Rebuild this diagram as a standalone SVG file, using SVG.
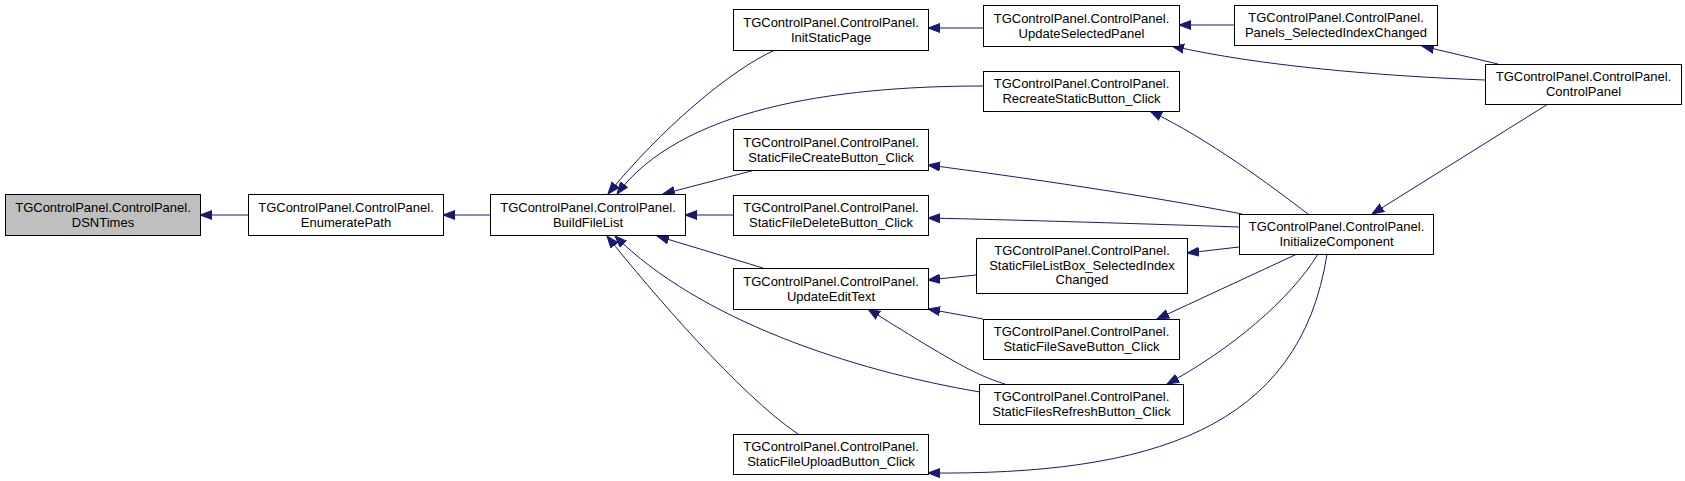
<svg xmlns="http://www.w3.org/2000/svg" width="1685" height="481" viewBox="0 0 1685 481">
<style>
.n rect{fill:#ffffff;stroke:#000000;stroke-width:1}
.n.cur rect{fill:#bfbfbf}
.n text{font-family:"Liberation Sans",Arial,sans-serif;font-size:13px;fill:#000000;text-anchor:middle}
.e path{fill:none;stroke:#191970;stroke-width:1;marker-end:url(#ah)}
</style>
<defs>
<marker id="ah" markerWidth="14" markerHeight="11" refX="12" refY="5" orient="auto" markerUnits="userSpaceOnUse">
<path d="M0,0.5 L12,5 L0,9.5 z" fill="#191970" stroke="#191970" stroke-width="1"/>
</marker>
</defs>
<rect width="1685" height="481" fill="#ffffff"/>
<g id="edges" class="e">
<path d="M248,215 L200,215"/>
<path d="M490,215 L443,215"/>
<path d="M775,50 C730,70 660,130 608,194"/>
<path d="M983,86 C830,86 680,110 617,194"/>
<path d="M755,170 L663,194"/>
<path d="M733,215 L685,215"/>
<path d="M763,268 L657,236"/>
<path d="M980,392 C850,370 700,320 615,236"/>
<path d="M798,434 C740,395 650,290 607,236"/>
<path d="M983,28 L928,28"/>
<path d="M1234,25 L1179,25"/>
<path d="M1485,80 C1380,76 1260,66 1172,46"/>
<path d="M1498,64 L1422,46"/>
<path d="M1548,104 L1372,214"/>
<path d="M1308,214 C1270,185 1210,140 1150,111"/>
<path d="M1242,214 C1150,196 1020,177 928,165"/>
<path d="M1239,227 C1150,224 1020,220 928,218"/>
<path d="M1239,247 L1187,253"/>
<path d="M1297,254 L1157,319"/>
<path d="M1318,254 C1290,300 1230,350 1167,384"/>
<path d="M1327,254 C1300,430 1150,475 928,473"/>
<path d="M976,275 L928,280"/>
<path d="M983,319 L928,309"/>
<path d="M1005,384 C975,375 950,360 868,309"/>
</g>
<g id="n1" class="n cur"><rect x="5.5" y="194.5" width="195" height="41"/><text x="103" y="211.5">TGControlPanel.ControlPanel.</text><text x="103" y="226.5">DSNTimes</text></g>
<g id="n2" class="n"><rect x="248.5" y="194.5" width="195" height="41"/><text x="346" y="211.5">TGControlPanel.ControlPanel.</text><text x="346" y="226.5">EnumeratePath</text></g>
<g id="n3" class="n"><rect x="490.5" y="194.5" width="195" height="41"/><text x="588" y="211.5">TGControlPanel.ControlPanel.</text><text x="588" y="226.5">BuildFileList</text></g>
<g id="n4" class="n"><rect x="733.5" y="9.5" width="195" height="41"/><text x="831" y="26.5">TGControlPanel.ControlPanel.</text><text x="831" y="41.5">InitStaticPage</text></g>
<g id="n5" class="n"><rect x="983.5" y="5.5" width="196" height="41"/><text x="1081.5" y="22.5">TGControlPanel.ControlPanel.</text><text x="1081.5" y="37.5">UpdateSelectedPanel</text></g>
<g id="n6" class="n"><rect x="983.5" y="71.5" width="196" height="40"/><text x="1081.5" y="88">TGControlPanel.ControlPanel.</text><text x="1081.5" y="103">RecreateStaticButton_Click</text></g>
<g id="n7" class="n"><rect x="1234.5" y="5.5" width="203" height="40"/><text x="1336" y="22">TGControlPanel.ControlPanel.</text><text x="1336" y="37">Panels_SelectedIndexChanged</text></g>
<g id="n8" class="n"><rect x="1485.5" y="64.5" width="196" height="40"/><text x="1583.5" y="81">TGControlPanel.ControlPanel.</text><text x="1583.5" y="96">ControlPanel</text></g>
<g id="n9" class="n"><rect x="733.5" y="129.5" width="195" height="41"/><text x="831" y="146.5">TGControlPanel.ControlPanel.</text><text x="831" y="161.5">StaticFileCreateButton_Click</text></g>
<g id="n10" class="n"><rect x="733.5" y="195.5" width="195" height="40"/><text x="831" y="212">TGControlPanel.ControlPanel.</text><text x="831" y="227">StaticFileDeleteButton_Click</text></g>
<g id="n11" class="n"><rect x="1239.5" y="214.5" width="194" height="40"/><text x="1336.5" y="231">TGControlPanel.ControlPanel.</text><text x="1336.5" y="246">InitializeComponent</text></g>
<g id="n12" class="n"><rect x="976.5" y="238.5" width="211" height="55"/><text x="1082" y="255">TGControlPanel.ControlPanel.</text><text x="1082" y="269.5">StaticFileListBox_SelectedIndex</text><text x="1082" y="284">Changed</text></g>
<g id="n13" class="n"><rect x="733.5" y="268.5" width="195" height="41"/><text x="831" y="285.5">TGControlPanel.ControlPanel.</text><text x="831" y="300.5">UpdateEditText</text></g>
<g id="n14" class="n"><rect x="983.5" y="319.5" width="196" height="40"/><text x="1081.5" y="336">TGControlPanel.ControlPanel.</text><text x="1081.5" y="351">StaticFileSaveButton_Click</text></g>
<g id="n15" class="n"><rect x="979.5" y="384.5" width="204" height="40"/><text x="1081.5" y="401">TGControlPanel.ControlPanel.</text><text x="1081.5" y="416">StaticFilesRefreshButton_Click</text></g>
<g id="n16" class="n"><rect x="733.5" y="434.5" width="195" height="40"/><text x="831" y="451">TGControlPanel.ControlPanel.</text><text x="831" y="466">StaticFileUploadButton_Click</text></g>
</svg>
